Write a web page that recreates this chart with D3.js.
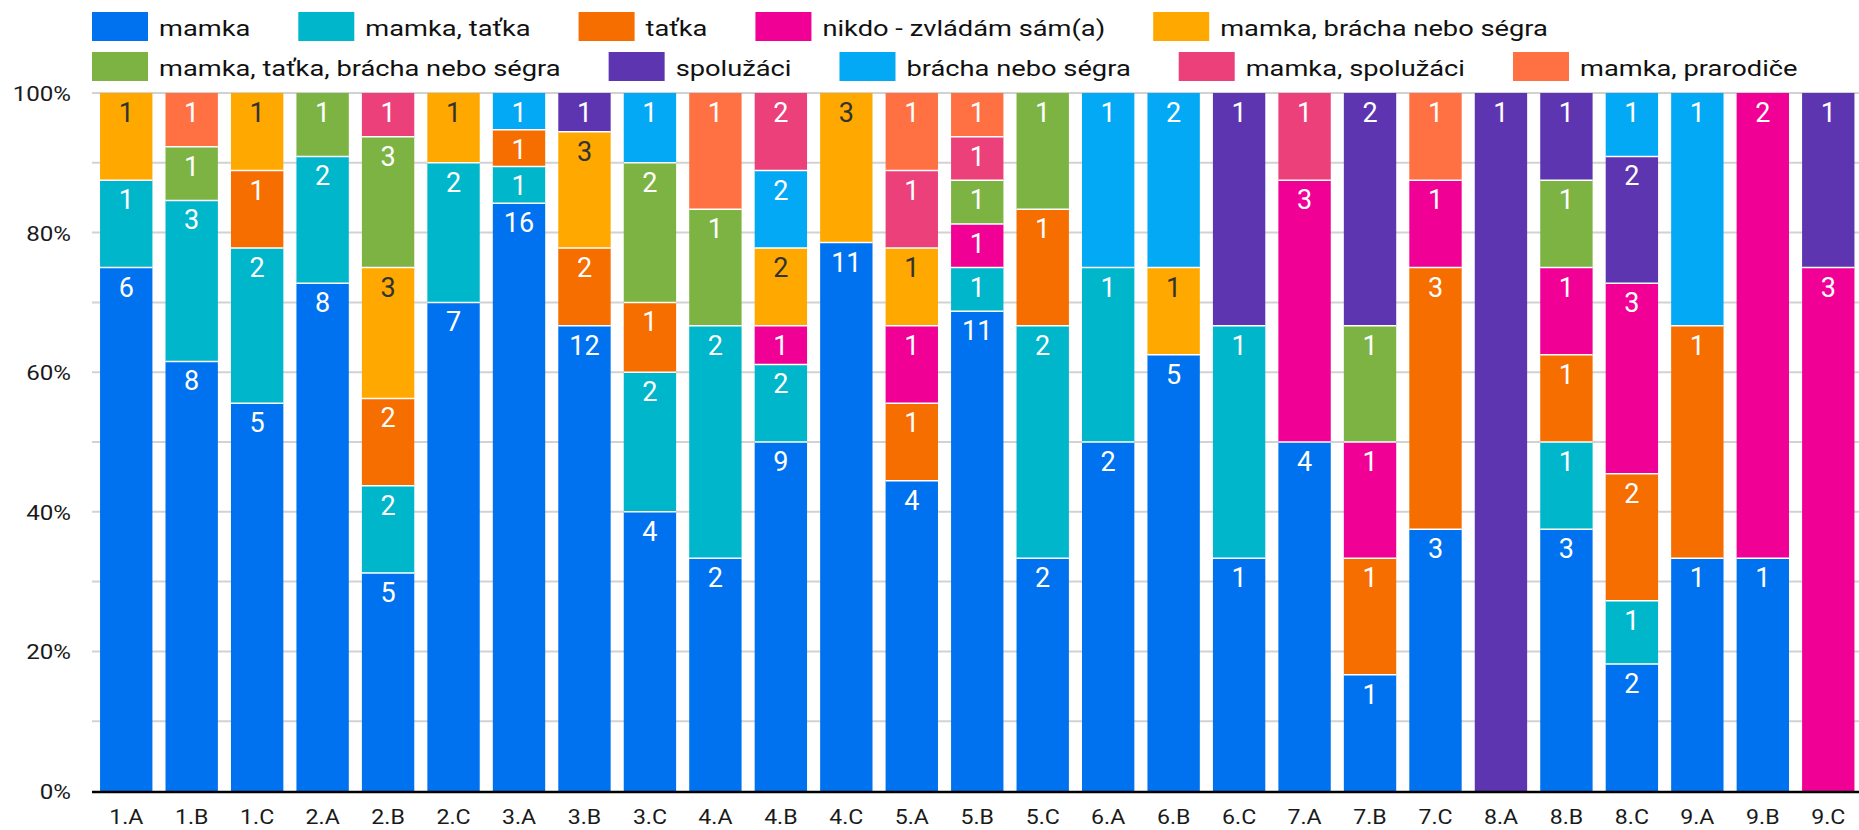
<!DOCTYPE html>
<html>
<head>
<meta charset="utf-8">
<script src="https://cdn.jsdelivr.net/npm/d3@7"></script>
<style>
  body { margin: 0; background: #fff; }
  svg { display: block; font-family: Roboto, "Noto Sans", sans-serif; }
</style>
</head>
<body>
<div id="chart"></div>
<script>
// tridy
var categories = ['1.A','1.B','1.C','2.A','2.B','2.C','3.A','3.B','3.C','4.A','4.B','4.C','5.A','5.B','5.C',
	'6.A','6.B','6.C','7.A','7.B','7.C','8.A','8.B','8.C','9.A','9.B','9.C'];

var seriesNames = ['mamka', 'mamka, taťka', 'taťka', 'nikdo - zvládám sám(a)', 'mamka, brácha nebo ségra',
	'mamka, taťka, brácha nebo ségra', 'spolužáci', 'brácha nebo ségra', 'mamka, spolužáci', 'mamka, prarodiče'];

var seriesColors = ['#0072f0', '#00b6cb', '#f66d00', '#f10096', '#ffa800',
	'#7cb342', '#5e35b1', '#03a9f4', '#ec407a', '#ff7043'];

// pocty odpovedi po tridach
var mamka            = [6,8,5,8,5,7,16,12,4,2,9,11,4,11,2,2,5,1,4,1,3,0,3,2,1,1,0];
var mamkaTatka       = [1,3,2,2,2,2,1,0,2,2,2,0,0,1,2,1,0,1,0,0,0,0,1,1,0,0,0];
var tatka            = [0,0,1,0,2,0,1,2,1,0,0,0,1,0,1,0,0,0,0,1,3,0,1,2,1,0,0];
var nikdo            = [0,0,0,0,0,0,0,0,0,0,1,0,1,1,0,0,0,0,3,1,1,0,1,3,0,2,3];
var mamkaSourozenec  = [1,0,1,0,3,1,0,3,0,0,2,3,1,0,0,0,1,0,0,0,0,0,0,0,0,0,0];
var rodiceSourozenec = [0,1,0,1,3,0,0,0,2,1,0,0,0,1,1,0,0,0,0,1,0,0,1,0,0,0,0];
var spoluzaci        = [0,0,0,0,0,0,0,1,0,0,0,0,0,0,0,0,0,1,0,2,0,1,1,2,0,0,1];
var sourozenec       = [0,0,0,0,0,0,1,0,1,0,2,0,0,0,0,1,2,0,0,0,0,0,0,1,1,0,0];
var mamkaSpoluzaci   = [0,0,0,0,1,0,0,0,0,0,2,0,1,1,0,0,0,0,1,0,0,0,0,0,0,0,0];
var mamkaPrarodice   = [0,1,0,0,0,0,0,0,0,1,0,0,1,1,0,0,0,0,0,0,1,0,0,0,0,0,0];

var seriesValues = [mamka, mamkaTatka, tatka, nikdo, mamkaSourozenec,
	rodiceSourozenec, spoluzaci, sourozenec, mamkaSpoluzaci, mamkaPrarodice];

var gridTicks = [0.1,0.2,0.3,0.4,0.5,0.6,0.7,0.8,0.9,1];
var yTicks = [0,0.2,0.4,0.6,0.8,1];
var yTickLabels = ['0%','20%','40%','60%','80%','100%'];
var legendRows = [[0,1,2,3,4],[5,6,7,8,9]];

var W = 1859, H = 830,
	plotLeft = 92, plotTop = 93, plotBottom = 791;

var svg = d3.select('#chart').append('svg')
	.attr('width', W)
	.attr('height', H);

var x = d3.scaleBand()
	.domain(categories)
	.range([93.5, 1861])
	.paddingInner(0.2)
	.paddingOuter(0.1);

var y = d3.scaleLinear()
	.domain([0,1])
	.range([plotBottom, plotTop]);

// table for d3.stack
var rows = categories.map(function(c,i) {
	var r = {cat: c};
	seriesNames.forEach(function(s,k) { r[s] = seriesValues[k][i]; });
	return r;
});
var stacked = d3.stack().keys(seriesNames).offset(d3.stackOffsetExpand)(rows);

// gridlines
svg.append('g').selectAll('line')
	.data(gridTicks)
	.enter().append('line')
		.attr('x1', plotLeft).attr('x2', W)
		.attr('y1', function(d) { return y(d); })
		.attr('y2', function(d) { return y(d); })
		.style('stroke', '#d2d2d2')
		.style('stroke-width', 2);

// y labels
svg.append('g').selectAll('text')
	.data(yTicks)
	.enter().append('text')
		.attr('transform', function(d) { return 'translate(71,' + (y(d) + 8) + ') scale(1.15,1)'; })
		.style('text-anchor', 'end')
		.style('font-size', '21px')
		.style('fill', '#1a1a1a')
		.text(function(d,i) { return yTickLabels[i]; });

// bars
var layers = svg.append('g').selectAll('g')
	.data(stacked)
	.enter().append('g')
		.style('fill', function(d,i) { return seriesColors[i]; });

layers.selectAll('rect')
	.data(function(d) { return d.filter(function(p) { return p[1] - p[0] > 0; }); })
	.enter().append('rect')
		.attr('x', function(d) { return x(d.data.cat); })
		.attr('y', function(d) { return y(d[1]); })
		.attr('width', x.bandwidth())
		.attr('height', function(d) { return y(d[0]) - y(d[1]); });

// white separators
layers.selectAll('line')
	.data(function(d) { return d.filter(function(p) { return p[1] - p[0] > 0 && p[0] > 0; }); })
	.enter().append('line')
		.attr('x1', function(d) { return x(d.data.cat); })
		.attr('x2', function(d) { return x(d.data.cat) + x.bandwidth(); })
		.attr('y1', function(d) { return y(d[0]); })
		.attr('y2', function(d) { return y(d[0]); })
		.style('stroke', '#fff')
		.style('stroke-width', 1.5);

// value labels
layers.each(function(layer, k) {
	d3.select(this).selectAll('text')
		.data(layer.filter(function(p) { return p[1] - p[0] > 0; }))
		.enter().append('text')
			.attr('x', function(d) { return x(d.data.cat) + x.bandwidth()/2; })
			.attr('y', function(d) { return y(d[1]) + 29; })
			.style('text-anchor', 'middle')
			.style('font-size', '27px')
			.style('fill', k === 4 ? '#333' : '#fff')
			.text(function(d) { return d.data[layer.key]; });
});

// baseline
svg.append('line')
	.attr('x1', plotLeft).attr('x2', W)
	.attr('y1', y(0) + 1).attr('y2', y(0) + 1)
	.style('stroke', '#000')
	.style('stroke-width', 2.5);

// x labels
svg.append('g').selectAll('text')
	.data(categories)
	.enter().append('text')
		.attr('transform', function(d) { return 'translate(' + (x(d) + x.bandwidth()/2) + ',824) scale(1.1,1)'; })
		.style('text-anchor', 'middle')
		.style('font-size', '21px')
		.style('fill', '#1a1a1a')
		.text(function(d) { return d; });

// legend
var legend = svg.append('g');
legendRows.forEach(function(row, r) {
	var lx = 92, top = 12 + r*40;
	row.forEach(function(k) {
		legend.append('rect')
			.attr('x', lx).attr('y', top)
			.attr('width', 56).attr('height', 29)
			.style('fill', seriesColors[k]);
		var t = legend.append('text')
			.attr('transform', 'translate(' + (lx + 67) + ',' + (top + 24) + ') scale(1.24,1)')
			.style('font-size', '22px')
			.style('fill', '#111')
			.text(seriesNames[k]);
		lx += 67 + t.node().getComputedTextLength()*1.24 + 48;
	});
});
</script>
</body>
</html>
